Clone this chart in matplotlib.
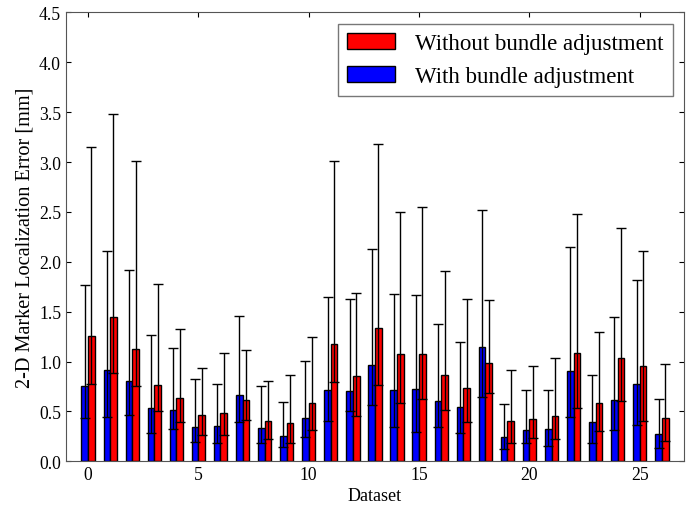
import numpy as np
import matplotlib
matplotlib.use("Agg")
import matplotlib.pyplot as plt

# median error per dataset, with lower / upper percentile ends of the whiskers
with_ba = [0.75, 0.92, 0.80, 0.53, 0.515, 0.345, 0.355, 0.66, 0.335, 0.255, 0.435, 0.71, 0.70, 0.965,
           0.715, 0.72, 0.60, 0.54, 1.15, 0.245, 0.315, 0.325, 0.91, 0.39, 0.61, 0.77, 0.275]
with_lo = [0.43, 0.44, 0.46, 0.28, 0.32, 0.19, 0.185, 0.39, 0.18, 0.14, 0.245, 0.40, 0.505, 0.56,
           0.34, 0.295, 0.34, 0.28, 0.64, 0.12, 0.18, 0.155, 0.44, 0.185, 0.31, 0.365, 0.135]
with_hi = [1.77, 2.11, 1.915, 1.27, 1.14, 0.82, 0.77, 1.46, 0.75, 0.595, 1.01, 1.65, 1.63, 2.125,
           1.68, 1.67, 1.375, 1.195, 2.515, 0.57, 0.715, 0.715, 2.15, 0.865, 1.45, 1.82, 0.62]

without_ba = [1.26, 1.445, 1.13, 0.76, 0.635, 0.46, 0.485, 0.61, 0.405, 0.38, 0.585, 1.175, 0.85, 1.34,
              1.08, 1.08, 0.86, 0.73, 0.985, 0.40, 0.425, 0.455, 1.085, 0.58, 1.035, 0.955, 0.43]
without_lo = [0.77, 0.89, 0.75, 0.50, 0.39, 0.265, 0.26, 0.415, 0.22, 0.185, 0.31, 0.795, 0.45, 0.76,
              0.58, 0.62, 0.51, 0.39, 0.68, 0.18, 0.23, 0.22, 0.535, 0.30, 0.60, 0.405, 0.205]
without_hi = [3.155, 3.485, 3.015, 1.78, 1.325, 0.94, 1.085, 1.115, 0.80, 0.865, 1.25, 3.015, 1.685, 3.18,
              2.495, 2.545, 1.905, 1.63, 1.62, 0.92, 0.96, 1.035, 2.475, 1.30, 2.335, 2.11, 0.98]

plt.rcParams['font.family'] = ['Liberation Serif', 'DejaVu Serif']
plt.rcParams['font.size'] = 12.7

x = np.arange(len(with_ba))
w = 0.3

fig = plt.figure(figsize=(6.99, 5.06), dpi=100)
ax = fig.add_axes([0.0944, 0.0864, 0.8841, 0.8871])

wb = np.array(with_ba)
wob = np.array(without_ba)
err_with = [wb - np.array(with_lo), np.array(with_hi) - wb]
err_without = [wob - np.array(without_lo), np.array(without_hi) - wob]

ax.bar(x - w / 2, with_ba, w, color='#0000ff', edgecolor='black', linewidth=1,
       yerr=err_with, capsize=3.5, error_kw=dict(ecolor='black', elinewidth=1, capthick=1),
       label='With bundle adjustment', zorder=2)
ax.bar(x + w / 2, without_ba, w, color='#ff0000', edgecolor='black', linewidth=1,
       yerr=err_without, capsize=3.5, error_kw=dict(ecolor='black', elinewidth=1, capthick=1),
       label='Without bundle adjustment', zorder=2)

ax.set_xlim(-1, 27)
ax.set_ylim(0, 4.5)
ax.set_xticks([0, 5, 10, 15, 20, 25])
ax.set_yticks(np.arange(0, 4.51, 0.5))
ax.yaxis.set_major_formatter(matplotlib.ticker.FormatStrFormatter('%.1f'))
ax.tick_params(direction='in', top=True, right=True, length=3.6, labelsize=12.7, pad=3.5)
for s in ax.spines.values():
    s.set_color('#555555')

ax.set_xlabel('Dataset', fontsize=13, labelpad=3)
ax.set_ylabel('2-D Marker Localization Error [mm]', fontsize=14.6, labelpad=3.5)

handles, labels = ax.get_legend_handles_labels()
leg = ax.legend(handles[::-1], labels[::-1], loc='upper right', fontsize=16.5, fancybox=False,
                handlelength=2.1, handletextpad=0.87, borderaxespad=0.5)
leg.get_frame().set_edgecolor('#555555')

fig.savefig('out.png', dpi=100)
